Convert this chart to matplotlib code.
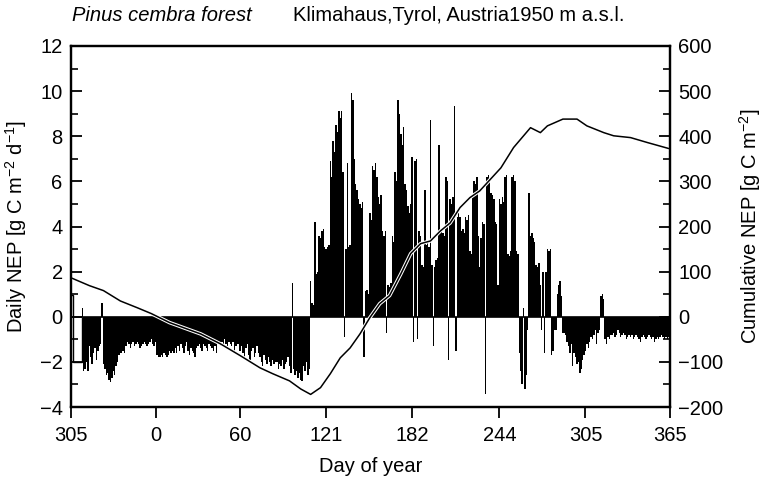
import numpy as np
import matplotlib
matplotlib.use("Agg")
import matplotlib.pyplot as plt
from matplotlib import font_manager
from matplotlib.ticker import MultipleLocator

# narrow Helvetica-like face if there is one, otherwise the regular one a bit smaller
installed = {f.name for f in font_manager.fontManager.ttflist}
if "Liberation Sans Narrow" in installed:
    face, fs = "Liberation Sans Narrow", 17
else:
    face, fs = "Liberation Sans", 14.5

plt.rcParams["font.family"] = [face, "DejaVu Sans"]
plt.rcParams["mathtext.fontset"] = "custom"
plt.rcParams["mathtext.rm"] = face
plt.rcParams["mathtext.it"] = face + ":italic"

# daily NEP [g C m-2 d-1], one value per day starting at day 305 of the previous year
first_day = -60
nep_daily = [
    0.95, 0.95, -2.0, -2.0, -2.0, -2.0, -2.0, -2.0, 0.4, -2.4,       # -60
    -2.3, -2.0, -2.4, -1.3, -1.8, -2.1, -1.6, -1.4, -1.9, -1.5,      # -50
    -1.3, -1.2, 0.6, -2.1, -2.3, -2.6, -2.5, -2.8, -2.9, -2.7,       # -40
    -2.4, -2.6, -2.2, -2.0, -1.7, -1.6, -1.6, -1.5, -1.6, -1.3,      # -30
    -1.1, -1.2, -1.4, -1.2, -1.1, -1.3, -1.2, -1.1, -1.2, -1.4,      # -20
    -1.3, -1.2, -1.1, -1.2, -1.3, -1.2, -1.1, -1.0, -1.2, -1.3,      # -10
    -1.1, -1.7, -1.8, -1.8, -1.7, -1.8, -1.6, -1.7, -1.8, -1.7,      # 0
    -1.5, -1.6, -1.5, -1.6, -1.4, -1.6, -1.3, -1.5, -1.2, -1.4,      # 10
    -1.6, -1.3, -1.1, -1.5, -1.7, -1.4, -1.5, -1.6, -1.8, -1.4,      # 20
    -1.3, -1.2, -1.4, -1.5, -1.2, -1.3, -1.4, -1.5, -1.2, -1.3,      # 30
    -1.4, -1.5, -1.3, -1.6, -1.1, -1.2, -1.3, -1.1, -1.2, -1.0,      # 40
    -1.2, -1.3, -1.1, -1.2, -1.3, -1.1, -1.5, -1.3, -1.2, -1.2,      # 50
    -1.5, -1.3, -1.6, -1.9, -1.4, -1.2, -1.7, -1.9, -1.5, -1.4,      # 60
    -1.8, -1.6, -1.3, -1.6, -1.8, -2.0, -2.2, -1.7, -1.9, -2.1,      # 70
    -1.8, -2.0, -2.2, -1.9, -2.1, -2.0, -2.0, -2.3, -2.1, -2.2,      # 80
    -1.9, -2.3, -2.1, -2.0, -1.8, -2.2, -2.5, 1.5, -2.3, -2.6,       # 90
    -2.4, -2.7, -2.5, -2.8, -2.85, -2.2, -2.4, -2.0, -2.6, -2.3,     # 100
    1.6, 0.6, 0.5, 4.2, 1.9, 2.0, 3.6, 3.5, 3.8, 3.9,                # 110
    3.1, 3.0, 3.1, 3.2, 6.9, 6.2, 7.8, 7.3, 8.5, 8.2,                # 120
    9.1, 8.8, 9.1, 6.4, -0.9, 3.0, 6.8, 3.1, 3.2, 9.9,               # 130
    9.6, 7.0, 5.9, 5.6, 5.2, 5.0, 4.8, 5.1, -1.8, 1.15,              # 140
    1.2, 1.0, 4.6, 4.3, 6.7, 6.5, 6.8, 6.2, 5.3, 5.0,                # 150
    5.4, 3.8, 3.6, 3.8, -0.7, 1.4, 1.3, 1.5, 3.6, 3.3,               # 160
    6.4, 6.0, 9.6, 9.0, 8.1, 7.6, 8.4, 5.9, 5.6, 4.9,                # 170
    4.6, 5.0, 7.1, -1.1, 6.9, 7.0, -1.0, 3.8, 3.6, 2.3,              # 180
    2.2, 5.6, 3.2, 3.4, 3.1, 8.7, 2.3, -1.3, 2.2, 2.5,               # 190
    2.6, 7.6, 3.8, 3.9, 3.7, 3.6, 6.2, 6.0, -1.9, 5.2,               # 200
    5.0, 5.3, 9.35, -1.5, 4.4, 4.6, 4.4, 3.8, 3.9, 3.7,              # 210
    4.4, 4.3, 4.5, 2.9, 2.8, 5.3, 6.0, 5.9, 6.2, 3.6,                # 220
    2.2, 3.5, 4.2, 4.1, -3.4, 6.2, 6.3, 6.0, 5.5, 5.4,               # 230
    5.2, 4.2, 4.1, 1.4, 5.2, 5.0, 5.3, 5.1, 6.2, 6.3,                # 240
    2.8, 2.7, 2.9, 6.2, 6.3, 6.0, 2.9, 2.8, -1.6, -2.4,              # 250
    -3.0, 0.4, -3.2, -2.6, -0.6, 5.5, 3.6, 3.7, 3.5, 3.3,            # 260
    2.3, 2.2, 2.4, 1.4, -0.6, 2.0, -1.6, 2.0, 3.0, 2.9,              # 270
    3.0, -1.7, -1.5, -0.6, -0.6, 1.0, 1.4, 1.6, 0.9, -0.7,           # 280
    -0.7, -0.8, -1.1, -1.3, -1.6, -1.2, -2.2, -1.6, -1.8, -2.1,      # 290
    -2.0, -2.5, -2.3, -1.9, -1.7, -1.5, -1.2, -1.4, -1.1, -0.9,      # 300
    -1.0, -0.8, -0.6, -1.2, -0.7, -0.6, 0.9, 1.0, 0.8, -1.0,         # 310
    -1.2, -0.9, -1.0, -0.8, -0.8, -0.7, -0.9, -0.8, -0.6, -0.7,      # 320
    -0.9, -0.8, -0.7, -0.8, -1.0, -0.9, -0.8, -0.9, -0.8, -1.0,      # 330
    -0.9, -0.8, -0.9, -1.0, -1.1, -0.9, -0.8, -0.9, -1.0, -0.9,      # 340
    -0.8, -0.9, -1.0, -0.9, -1.1, -1.0, -0.9, -1.0, -0.9, -0.8,      # 350
    -0.9, -1.0, -0.9, -1.0, -0.9, -0.8,                              # 360
]
# first days are gap-filled and drawn as an open outline
n_gap_filled = 8

# cumulative NEP [g C m-2]
cum_days = [-59, -47, -37, -25, -13, -3, 10, 32, 46, 60, 74, 83, 95, 103,
            110, 117, 124, 131, 138, 145, 152, 159, 166, 174, 181, 188, 195,
            202, 209, 216, 223, 230, 245, 254, 266, 273, 278, 289, 299, 306,
            318, 325, 337, 349, 365]
cum_nep = [85, 69, 58, 35, 20, 7, -13, -38, -60, -86, -113, -126, -142, -160,
           -172, -157, -126, -91, -69, -38, -2, 29, 47, 95, 140, 162, 168,
           190, 208, 242, 264, 279, 330, 375, 419, 408, 423, 438, 438, 423,
           408, 401, 397, 386, 372]

x_ticks = [-60, 0, 60, 121, 182, 244, 305, 365]
x_tick_labels = ["305", "0", "60", "121", "182", "244", "305", "365"]

days = np.arange(first_day, first_day + len(nep_daily))
nep = np.array(nep_daily)

fig = plt.figure(figsize=(7.64, 4.84), dpi=100)
ax = fig.add_axes([0.093, 0.159, 0.784, 0.746])

ax.bar(days[n_gap_filled:], nep[n_gap_filled:], width=1.0, color="black",
       linewidth=0)
edges = np.arange(first_day - 0.5, first_day + n_gap_filled)
ax.stairs(nep[:n_gap_filled], edges, baseline=0, color="black", lw=1.0)
ax.axhline(0, color="black", lw=1.2)

ax.set_xlim(-60, 365)
ax.set_ylim(-4, 12)
ax.set_xticks(x_ticks)
ax.set_xticklabels(x_tick_labels)
ax.yaxis.set_major_locator(MultipleLocator(2))
ax.yaxis.set_minor_locator(MultipleLocator(1))
ax.tick_params(axis="y", which="major", direction="in", length=8, width=1.3,
               labelsize=fs, pad=6)
ax.tick_params(axis="y", which="minor", direction="in", length=5, width=1.2)
ax.tick_params(axis="x", direction="out", length=8, width=1.3,
               labelsize=fs, pad=6)
ax.set_xlabel("Day of year", fontsize=fs, labelpad=8)
ax.set_ylabel("Daily NEP [g C m$^{-2}$ d$^{-1}$]", fontsize=fs)
ax.yaxis.set_label_coords(-0.071, 0.5)

ax2 = ax.twinx()
ax2.plot(cum_days, cum_nep, color="white", lw=2.6, solid_capstyle="butt")
ax2.plot(cum_days, cum_nep, color="black", lw=1.1)
ax2.set_ylim(-200, 600)
ax2.yaxis.set_major_locator(MultipleLocator(100))
ax2.yaxis.set_minor_locator(MultipleLocator(50))
ax2.tick_params(axis="y", which="major", direction="in", length=8, width=1.3,
                labelsize=fs, pad=6)
ax2.tick_params(axis="y", which="minor", direction="in", length=5, width=1.2)
ax2.set_ylabel("Cumulative NEP [g C m$^{-2}$]", fontsize=fs)
ax2.yaxis.set_label_coords(1.112, 0.5)

for a in (ax, ax2):
    for side in a.spines.values():
        side.set_linewidth(1.6)

fig.text(0.094, 0.968, "Pinus cembra forest", style="italic", fontsize=fs,
         va="center", ha="left")
fig.text(0.383, 0.968, "Klimahaus,Tyrol, Austria1950 m a.s.l.", fontsize=fs,
         va="center", ha="left")

fig.savefig("out.png", dpi=100)
plt.close(fig)
